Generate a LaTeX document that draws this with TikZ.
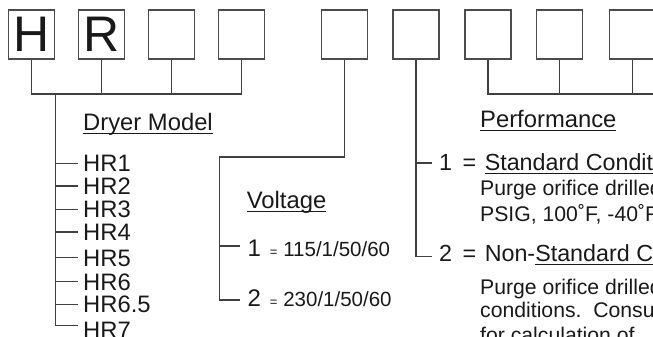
\documentclass[tikz,border=0pt]{standalone}
\usepackage{fontspec}
\setmainfont{Liberation Sans}
\usetikzlibrary{positioning}

% underline sitting close to the baseline
\newcommand{\ulbar}[1]{\setbox0\hbox{#1}\rlap{\rule[-3pt]{\wd0}{1.1pt}}\box0}

\tikzset{
  digit/.style={draw=black!70, line width=1.2pt, minimum width=46pt, minimum height=49pt,
    inner sep=0pt, font=\fontsize{50}{50}\selectfont, text=black!90},
  lead/.style={draw=black!75, line width=1.1pt},
  head/.style={anchor=base west, inner sep=0pt, font=\fontsize{23.8}{28}\selectfont, text=black!90},
  opt/.style={anchor=base west, inner sep=0pt, font=\fontsize{23.3}{27}\selectfont, text=black!90},
  volt/.style={anchor=base west, inner sep=0pt, font=\fontsize{20.5}{24}\selectfont, text=black!90},
  note/.style={anchor=base west, inner sep=0pt, font=\fontsize{21.2}{25}\selectfont, text=black!90},
}

\begin{document}
\begin{tikzpicture}[x=1pt, y=-1pt]
\useasboundingbox (0,0) rectangle (653,337);
\clip (0,0) rectangle (653,337);

% === Code boxes ===
\foreach \bx/\txt [count=\i] in {31.3/H, 101.5/R, 171.5/{}, 241.5/{}, 344.3/{}, 416/{}, 488/{}, 559.7/{}, 632.3/{}}
  \node[digit] (b\i) at (\bx,34.5) {\txt};

% === Dryer model (boxes 1-4) ===
\coordinate (mbar) at (55.3,94);
\draw[lead] (b1.south) |- (mbar) -| (b4.south);
\foreach \i in {2,3}
  \draw[lead] (b\i.south) -- (b\i.south |- mbar);

\node[head] (model) at (83,130.7) {\ulbar{Dryer Model}};
\foreach \m/\yb [count=\k] in {HR1/171.7, HR2/194.4, HR3/217.7, HR4/240.4, HR5/266.1, HR6/290.1, HR6.5/312.7, HR7/338}
  \node[head] (hr\k) at (83,\yb) {\m};
\foreach \k in {1,...,7} {
  \coordinate (tk\k) at ([shift={(-5.3pt,8.4pt)}]hr\k.base west);
  \draw[lead] (mbar |- tk\k) -- (tk\k);
}
\coordinate (tk8) at ([shift={(-5.3pt,12.3pt)}]hr8.base west);
\draw[lead] (mbar) |- (tk8);

% === Voltage (box 5) ===
\node[head] (volt) at (246.7,208.7) {\ulbar{Voltage}};
\node[volt] (v1) at (247.4,256.7)
  {{\fontsize{24}{28}\selectfont 1}\hspace{9pt}{\fontsize{13}{15}\selectfont =}\hspace{5.8pt}115/1/50/60};
\node[volt] (v2) at (247.4,306.7)
  {{\fontsize{24}{28}\selectfont 2}\hspace{9pt}{\fontsize{13}{15}\selectfont =}\hspace{5.8pt}230/1/50/60};
\coordinate (vknee) at (219.3,157);
\coordinate (vt1) at ([shift={(-7.4pt,10.7pt)}]v1.base west);
\coordinate (vt2) at ([shift={(-7.4pt,6.7pt)}]v2.base west);
\draw[lead] (b5.south) |- (vknee) |- (vt2);
\draw[lead] (vknee |- vt1) -- (vt1);

% === Performance (box 6) ===
\node[opt] (p1) at (439,170.7) {1\hspace{10.5pt}=\hspace{8.5pt}\ulbar{Standard Conditions}};
\node[note] (p1a) at (480,195) {Purge orifice drilled};
\node[note] (p1b) at (480,221.7) {PSIG, 100˚F, -40˚F};
\node[opt] (p2) at (439,261.7) {2\hspace{10.5pt}=\hspace{8.5pt}Non-\ulbar{Standard Conditions}};
\node[note] (p2a) at (480,294) {Purge orifice drilled};
\node[note] (p2b) at (480,317.3) {conditions.\ \ Consult};
\node[note] (p2c) at (480,342) {for calculation of};
\coordinate (pt1) at ([shift={(-7.3pt,7.7pt)}]p1.base west);
\coordinate (pt2) at ([shift={(-7.3pt,5pt)}]p2.base west);
\draw[lead] (b6.south) |- (pt2);
\draw[lead] (b6.south |- pt1) -- (pt1);

% === Boxes 7-9 ===
\coordinate (pend) at (660,94);
\draw[lead] (b7.south) |- (pend);
\foreach \i in {8,9}
  \draw[lead] (b\i.south) -- (b\i.south |- pend);
\node[head] (perf) at (480,127.7) {\ulbar{Performance}};

\end{tikzpicture}
\end{document}
